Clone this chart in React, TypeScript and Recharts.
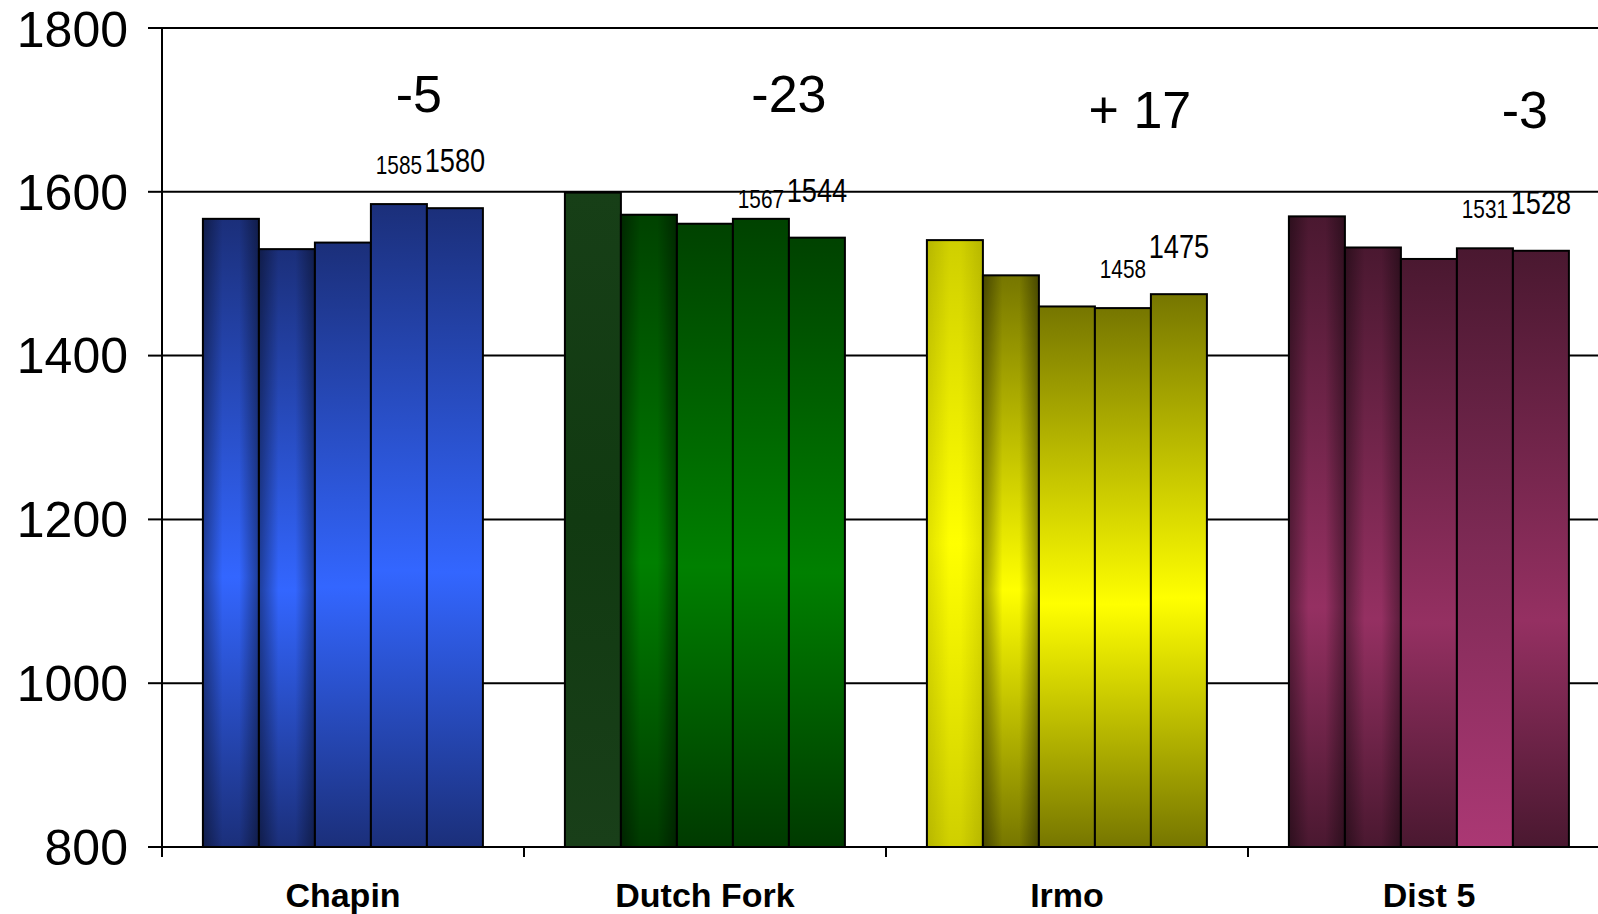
import React from "react";
import { BarChart, Bar, XAxis, YAxis, CartesianGrid, LabelList } from "recharts";

// ---------- data ----------
const categories = ["Chapin", "Dutch Fork", "Irmo", "Dist 5"];
const year1 = [1567, 1599, 1541, 1570];
const year2 = [1530, 1572, 1498, 1532];
const year3 = [1538, 1561, 1460, 1518];
const year4 = [1585, 1567, 1458, 1531];
const year5 = [1580, 1544, 1475, 1528];
const changeLabels = ["-5", "-23", "+ 17", "-3"];
const yTicks = [800, 1000, 1200, 1400, 1600, 1800];

const seriesKeys = ["y1", "y2", "y3", "y4", "y5"];
const data = categories.map((name, i) => ({
  name,
  y1: year1[i],
  y2: year2[i],
  y3: year3[i],
  y4: year4[i],
  y5: year5[i],
}));

// ---------- style ----------
const CHART_W = 1640;
const CHART_H = 914;
const MARGIN = { top: 28, right: 30, bottom: 0, left: 0 };
const YAXIS_W = 162;
const XAXIS_H = 67;
const PLOT_W = CHART_W - MARGIN.left - MARGIN.right - YAXIS_W;
const HALF_BAND = PLOT_W / categories.length / 2;

const FONT = "'Liberation Sans', Arial, Helvetica, sans-serif";
const NARROW_SCALE = 0.8;

const lift4 = [30, 11, 30, 30];
const lift5 = [36, 36, 36, 37];
const changeDrop = [84, 84, 100, 100];
const changeShift = [-8, 0, -11, 12];

type Stops = [number, string][];
const blue: Stops = [[0, "#1b2f7a"], [0.57, "#3366ff"], [1, "#1b2f7a"]];
const greenFlat: Stops = [[0, "#173f17"], [0.5, "#113a11"], [1, "#193f19"]];
const green: Stops = [[0, "#004200"], [0.55, "#008000"], [1, "#003a00"]];
const yellowLight: Stops = [[0, "#cfcf00"], [0.5, "#ffff00"], [1, "#cfcf00"]];
const olive: Stops = [[0, "#767600"], [0.55, "#ffff00"], [1, "#767600"]];
const plum: Stops = [[0, "#4a1830"], [0.62, "#953062"], [1, "#4a1830"]];
const plumBright: Stops = [[0, "#4a1830"], [0.5, "#7e2a55"], [1, "#ab3874"]];

const palettes: Stops[][] = [
  [blue, blue, blue, blue, blue],
  [greenFlat, green, green, green, green],
  [yellowLight, olive, olive, olive, olive],
  [plum, plum, plum, plumBright, plum],
];
// which bars get the side shading (category x series)
const sideShade: boolean[][] = [
  [true, true, false, false, false],
  [false, true, false, false, false],
  [true, true, false, false, false],
  [true, true, false, false, false],
];

const BarShape = (props: any) => {
  const { x, y, width, height, index, ser } = props;
  if (width == null || height == null) return null;
  return (
    <g>
      <rect x={x} y={y} width={width} height={height} fill={`url(#g${index}_${ser})`} />
      {sideShade[index][ser] && (
        <rect x={x} y={y} width={width} height={height} fill={index === 2 && ser === 0 ? "url(#edgeLight)" : "url(#edgeShade)"} />
      )}
      <rect x={x} y={y} width={width} height={height} fill="none" stroke="#000" strokeWidth={2} />
    </g>
  );
};

const CatTick = (props: any) => {
  const { x, y, payload } = props;
  return (
    <g>
      <line x1={x - HALF_BAND} x2={x - HALF_BAND} y1={y} y2={y + 10} stroke="#000" strokeWidth={2} />
      <text
        x={x}
        y={y}
        dy={60}
        textAnchor="middle"
        fontFamily={FONT}
        fontWeight="bold"
        fontSize={34}
        fill="#000"
      >
        {payload.value}
      </text>
    </g>
  );
};

const NarrowText = ({ cx, cy, size, children }: any) => (
  <text
    transform={`translate(${cx},${cy}) scale(${NARROW_SCALE},1)`}
    x={0}
    y={0}
    textAnchor="middle"
    fontFamily={FONT}
    fontSize={size}
    fill="#000"
  >
    {children}
  </text>
);

const Label4 = (props: any) => {
  const { x, y, width, index, value } = props;
  return <NarrowText cx={x + width / 2} cy={y - lift4[index]} size={26}>{value}</NarrowText>;
};

const Label5 = (props: any) => {
  const { x, y, width, index, value } = props;
  return (
    <g>
      <NarrowText cx={x + width / 2} cy={y - lift5[index]} size={34}>{value}</NarrowText>
      <text
        x={x + changeShift[index]}
        y={MARGIN.top + changeDrop[index]}
        textAnchor="middle"
        fontFamily={FONT}
        fontSize={52}
        fill="#000"
      >
        {changeLabels[index]}
      </text>
    </g>
  );
};

export default function App() {
  return (
    <div style={{ position: "absolute", left: 0, top: 0, width: 1598, height: 914, overflow: "hidden", background: "#fff" }}>
      <BarChart
        width={CHART_W}
        height={CHART_H}
        data={data}
        margin={MARGIN}
        barCategoryGap="11.3%"
        barGap={0}
      >
        <defs>
          {palettes.map((row, ci) =>
            row.map((stops, si) => (
              <linearGradient key={`g${ci}_${si}`} id={`g${ci}_${si}`} x1="0" y1="0" x2="0" y2="1">
                {stops.map(([o, c], k) => (
                  <stop key={k} offset={o} stopColor={c} />
                ))}
              </linearGradient>
            ))
          )}
          <linearGradient id="edgeShade" x1="0" y1="0" x2="1" y2="0">
            <stop offset={0} stopColor="#000" stopOpacity={0.4} />
            <stop offset={0.35} stopColor="#000" stopOpacity={0} />
            <stop offset={0.65} stopColor="#000" stopOpacity={0} />
            <stop offset={1} stopColor="#000" stopOpacity={0.4} />
          </linearGradient>
          <linearGradient id="edgeLight" x1="0" y1="0" x2="1" y2="0">
            <stop offset={0} stopColor="#000" stopOpacity={0.12} />
            <stop offset={0.4} stopColor="#000" stopOpacity={0} />
            <stop offset={0.6} stopColor="#000" stopOpacity={0} />
            <stop offset={1} stopColor="#000" stopOpacity={0.12} />
          </linearGradient>
        </defs>
        <CartesianGrid vertical={false} stroke="#000" strokeWidth={2} />
        <XAxis
          dataKey="name"
          height={XAXIS_H}
          axisLine={{ stroke: "#000", strokeWidth: 2 }}
          tickLine={false}
          tickSize={0}
          tickMargin={0}
          tick={<CatTick />}
          interval={0}
        />
        <YAxis
          width={YAXIS_W}
          domain={[800, 1800]}
          ticks={yTicks}
          allowDataOverflow
          axisLine={{ stroke: "#000", strokeWidth: 2 }}
          tickLine={{ stroke: "#000", strokeWidth: 2 }}
          tickSize={14}
          tickMargin={20}
          tick={{ fontSize: 50, fill: "#000", fontFamily: FONT }}
        />
        {seriesKeys.map((k, si) => (
          <Bar
            key={k}
            dataKey={k}
            isAnimationActive={false}
            shape={(p: any) => <BarShape {...p} ser={si} />}
          >
            {si === 3 && <LabelList dataKey={k} content={<Label4 />} />}
            {si === 4 && <LabelList dataKey={k} content={<Label5 />} />}
          </Bar>
        ))}
      </BarChart>
    </div>
  );
}
